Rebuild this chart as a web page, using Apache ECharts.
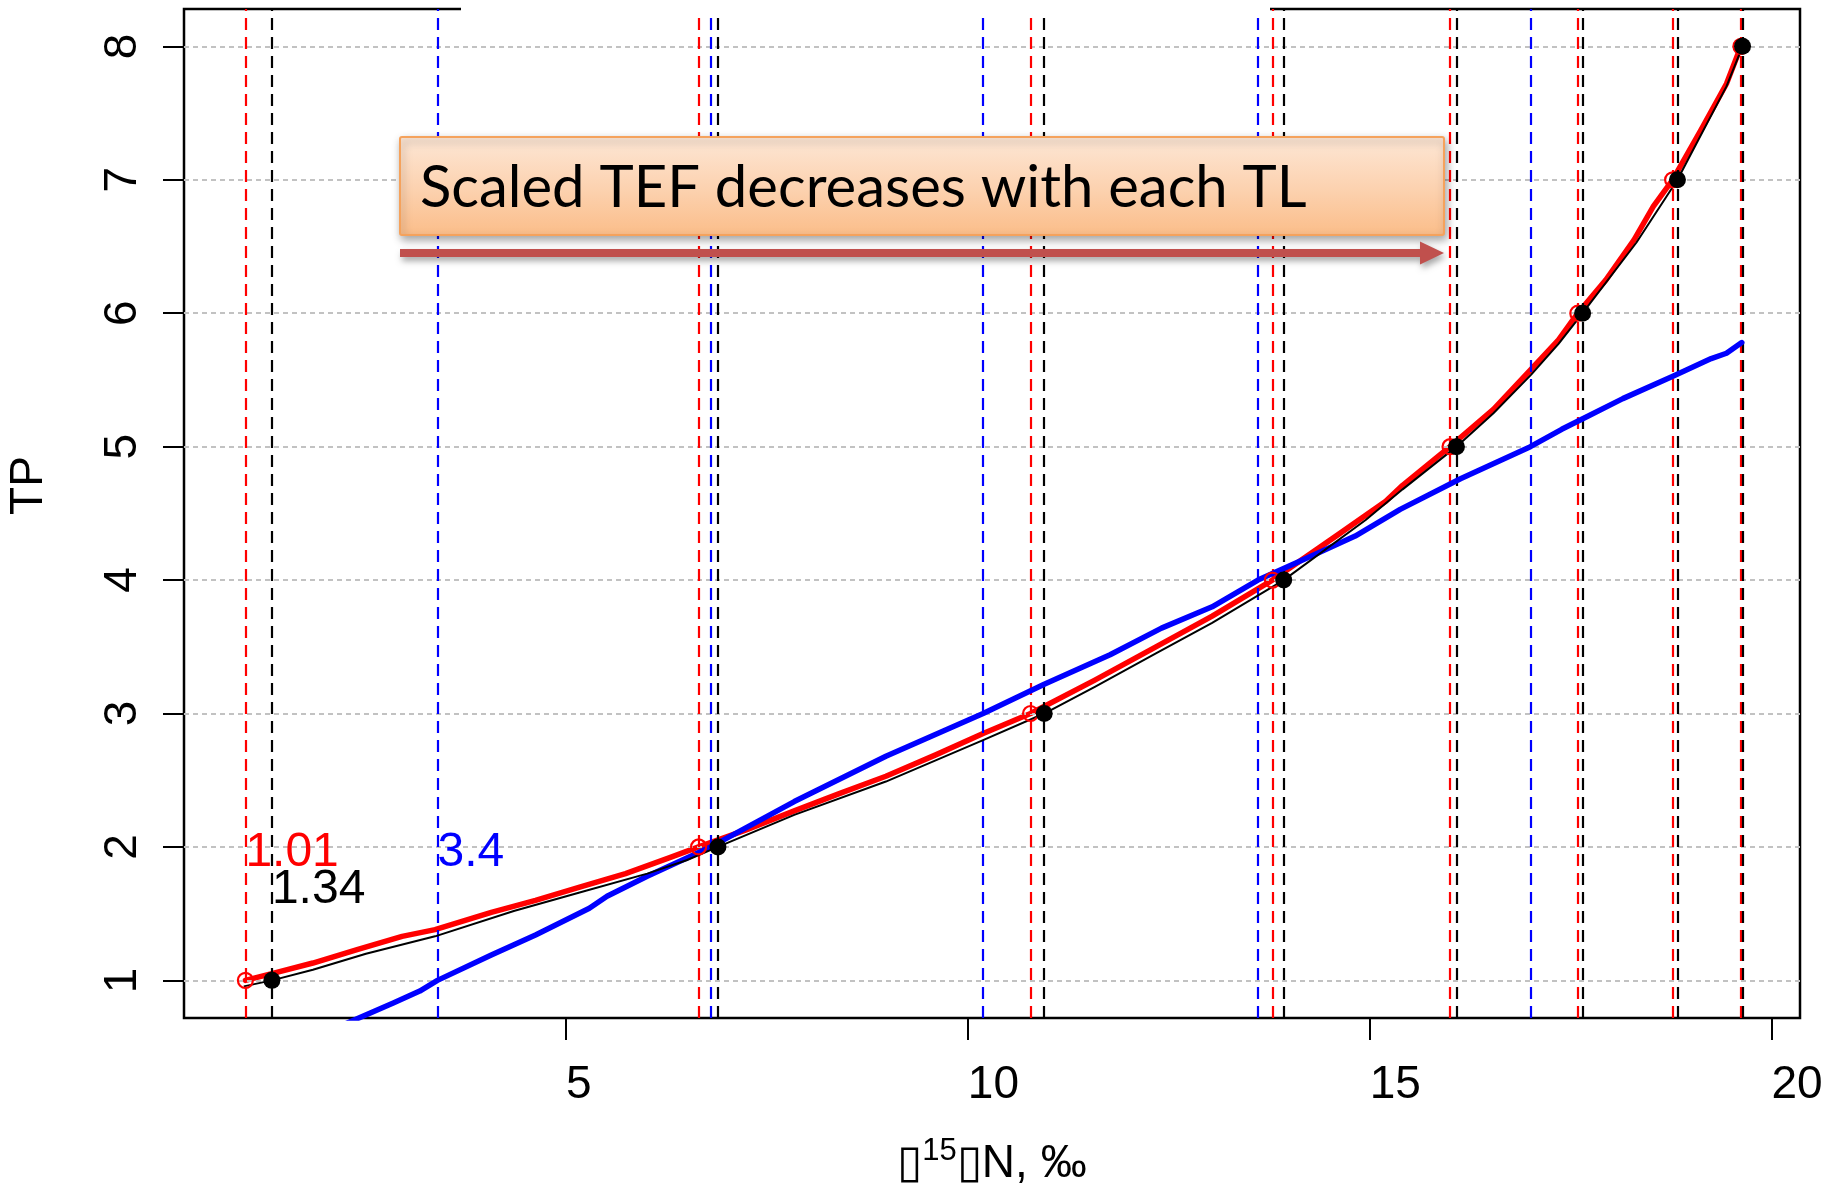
<!DOCTYPE html>
<html>
<head>
<meta charset="utf-8">
<title>TP vs δ15N</title>
<script src="https://cdn.jsdelivr.net/npm/echarts@6/dist/echarts.min.js"></script>
<style>
  html, body { margin: 0; padding: 0; background: #ffffff; }
  #chart { width: 1832px; height: 1200px; }
</style>
</head>
<body>
<div id="chart"></div>
<script>
// Trophic position levels and axis ticks
const tpLevels = [1, 2, 3, 4, 5, 6, 7, 8];
const xTicks = [5, 10, 15, 20];

// δ15N where each model curve reaches an integer TP
const redCross   = [1.01, 6.65, 10.78, 13.79, 16.00, 17.59, 18.77, 19.62];
const blackCross = [1.34, 6.89, 10.95, 13.93, 16.08, 17.65, 18.83, 19.64];
const blueCross  = [3.4, 6.80, 10.19, 13.61, 17.00];

// Baseline δ15N values printed next to the first dashed lines
const baseRed = 1.01;
const baseBlack = 1.34;
const baseBlue = 3.4;

// Model curves: [δ15N, TP]
const redCurve = [
  [1.01, 1.00], [1.40, 1.06], [1.85, 1.13], [2.40, 1.23], [2.96, 1.33], [3.37, 1.38],
  [4.07, 1.51], [4.62, 1.60], [5.18, 1.70], [5.74, 1.80], [6.29, 1.92], [6.65, 2.00],
  [7.25, 2.13], [7.84, 2.27], [8.40, 2.40], [8.98, 2.53], [9.60, 2.69], [10.19, 2.85],
  [10.78, 3.00], [11.58, 3.25], [12.34, 3.50], [13.04, 3.73], [13.79, 4.00], [14.63, 4.35],
  [15.20, 4.59], [15.41, 4.71], [16.00, 5.00], [16.54, 5.28], [17.01, 5.58], [17.35, 5.80],
  [17.59, 6.00], [17.94, 6.25], [18.29, 6.55], [18.53, 6.80], [18.77, 7.00], [19.12, 7.37],
  [19.44, 7.72], [19.62, 8.00]
];
const blackCurve = [
  [0.99, 0.955], [1.34, 1.00], [1.85, 1.08], [2.51, 1.20], [3.37, 1.33], [4.35, 1.52],
  [5.18, 1.66], [6.01, 1.80], [6.50, 1.90], [6.89, 2.00], [7.84, 2.24], [8.98, 2.49],
  [10.19, 2.80], [10.95, 3.00], [11.58, 3.20], [12.34, 3.45], [13.04, 3.68], [13.93, 4.00],
  [14.95, 4.45], [15.41, 4.68], [16.08, 5.00], [16.54, 5.25], [17.01, 5.54], [17.35, 5.77],
  [17.65, 6.00], [18.32, 6.53], [18.83, 7.00], [19.44, 7.70], [19.64, 8.00]
];
const blueCurve = [
  [2.20, 0.66], [2.85, 0.83], [3.18, 0.92], [3.40, 1.00], [4.07, 1.19], [4.62, 1.34],
  [5.29, 1.54], [5.51, 1.63], [6.01, 1.78], [6.80, 2.00], [7.84, 2.34], [8.98, 2.68],
  [10.19, 3.00], [10.95, 3.22], [11.77, 3.44], [12.41, 3.64], [13.04, 3.80], [13.61, 4.00],
  [14.31, 4.19], [14.82, 4.33], [15.38, 4.53], [16.13, 4.76], [17.00, 5.00], [17.39, 5.13],
  [17.72, 5.23], [18.15, 5.36], [18.78, 5.53], [19.25, 5.66], [19.44, 5.70], [19.63, 5.78]
];

const AXIS_FONT = "'Liberation Sans', Arial, Helvetica, sans-serif";
const RED = '#ff0000', BLACK = '#000000', BLUE = '#0000ff';

const chart = echarts.init(document.getElementById('chart'), null, { renderer: 'canvas' });

function vLines(values, color) {
  return {
    silent: true,
    symbol: ['none', 'none'],
    label: { show: false },
    emphasis: { disabled: true },
    animation: false,
    lineStyle: { color: color, width: 2.2, type: [12, 7], opacity: 1 },
    data: values.map(v => ({ xAxis: v }))
  };
}

function crossPoints(xs) {
  return xs.map((x, i) => [x, tpLevels[i]]);
}

const option = {
  animation: false,
  backgroundColor: '#ffffff',
  grid: {
    left: 184, right: 32, top: 9, bottom: 182,
    show: true, borderColor: '#000', borderWidth: 2.5, backgroundColor: 'transparent',
    containLabel: false, outerBoundsMode: 'none'
  },
  xAxis: {
    type: 'value', min: 0.246, max: 20.355,
    name: '{t|\u25AF}{s|15}{t|\u25AFN, \u2030}',
    nameLocation: 'middle', nameGap: 118,
    nameTextStyle: {
      rich: {
        t: { fontSize: 46, fontFamily: AXIS_FONT, color: '#000' },
        s: { fontSize: 31, fontFamily: AXIS_FONT, color: '#000', padding: [0, 0, 26, 0] }
      }
    },
    axisLine: { show: false },
    splitLine: { show: false },
    axisTick: { show: true, customValues: xTicks, length: 22, lineStyle: { color: '#000', width: 2 } },
    axisLabel: {
      customValues: xTicks, fontSize: 46, fontFamily: AXIS_FONT, color: '#000',
      align: 'left', margin: 44
    }
  },
  yAxis: {
    type: 'value', min: 0.718, max: 8.28,
    name: 'TP', nameLocation: 'middle', nameGap: 132, nameRotate: 90,
    nameTextStyle: { fontSize: 46, fontFamily: AXIS_FONT, color: '#000', padding: [0, 0, 0, 56] },
    axisLine: { show: false },
    splitLine: { show: false },
    axisTick: { show: true, customValues: tpLevels, length: 21, lineStyle: { color: '#000', width: 2 } },
    axisLabel: {
      customValues: tpLevels, fontSize: 46, fontFamily: AXIS_FONT, color: '#000',
      rotate: 90, margin: 38
    }
  },
  series: [
    {
      name: 'grid', type: 'line', data: [], z: 1, silent: true,
      markLine: {
        silent: true, symbol: ['none', 'none'], label: { show: false }, animation: false,
        lineStyle: { color: '#c2c2c2', width: 2, type: [5, 4] },
        data: tpLevels.map(v => ({ yAxis: v }))
      }
    },
    { name: 'blue levels', type: 'line', data: [], z: 2, silent: true, markLine: vLines(blueCross, BLUE) },
    { name: 'red levels', type: 'line', data: [], z: 2, silent: true, markLine: vLines(redCross, RED) },
    { name: 'black levels', type: 'line', data: [], z: 2, silent: true, markLine: vLines(blackCross, BLACK) },
    {
      name: 'red', type: 'line', data: redCurve, z: 4, showSymbol: false, clip: true, silent: true,
      lineStyle: { color: RED, width: 5.5, cap: 'round', join: 'round', opacity: 1 }
    },
    {
      name: 'blue', type: 'line', data: blueCurve, z: 5, showSymbol: false, clip: true, silent: true,
      lineStyle: { color: BLUE, width: 5.5, cap: 'round', join: 'round', opacity: 1 }
    },
    {
      name: 'black', type: 'line', data: blackCurve, z: 6, showSymbol: false, clip: true, silent: true,
      lineStyle: { color: BLACK, width: 2, join: 'round', opacity: 1 }
    },
    {
      name: 'red points', type: 'scatter', data: crossPoints(redCross), z: 7, silent: true,
      symbol: 'circle', symbolSize: 15,
      itemStyle: { color: 'rgba(0,0,0,0)', borderColor: RED, borderWidth: 2.2, opacity: 1 }
    },
    {
      name: 'black points', type: 'scatter', data: crossPoints(blackCross), z: 8, silent: true,
      symbol: 'circle', symbolSize: 17, itemStyle: { color: BLACK, opacity: 1 }
    },
    {
      name: 'baseline labels', type: 'scatter', z: 9, silent: true, symbolSize: 0,
      itemStyle: { opacity: 1 },
      data: [
        { value: [baseRed, 1.96], label: { color: RED } },
        { value: [baseBlack, 1.68], label: { color: BLACK } },
        { value: [baseBlue, 1.96], label: { color: BLUE } }
      ],
      label: {
        show: true, position: 'right', distance: 0, opacity: 1,
        fontSize: 48, fontFamily: AXIS_FONT,
        formatter: p => String(p.value[0])
      }
    }
  ],
  graphic: [
    // gap in the top frame line
    { type: 'rect', z: 50, silent: true, shape: { x: 461, y: 6, width: 809, height: 6 }, style: { fill: '#ffffff' } },
    // callout box
    {
      type: 'rect', z: 60, silent: true,
      shape: { x: 400, y: 137, width: 1044, height: 98, r: 2 },
      style: {
        fill: new echarts.graphic.LinearGradient(0, 0, 0, 1, [
          { offset: 0, color: '#fde7d6' },
          { offset: 0.55, color: '#fcd1ae' },
          { offset: 1, color: '#fbbd89' }
        ]),
        stroke: '#f5a25c', lineWidth: 2,
        shadowBlur: 8, shadowOffsetX: 2, shadowOffsetY: 4, shadowColor: 'rgba(0,0,0,0.35)'
      }
    },
    {
      type: 'text', z: 61, silent: true, x: 420, y: 188,
      style: {
        text: 'Scaled TEF decreases with each TL',
        fontFamily: "Lato, 'Open Sans', sans-serif", fontSize: 58, fill: '#000',
        verticalAlign: 'middle', align: 'left'
      }
    },
    // arrow beneath the callout
    {
      type: 'polygon', z: 60, silent: true,
      shape: { points: [[400, 249], [1420, 249], [1420, 241.5], [1444, 253], [1420, 264.5], [1420, 257], [400, 257]] },
      style: {
        fill: '#c0504d',
        shadowBlur: 6, shadowOffsetX: 2, shadowOffsetY: 4, shadowColor: 'rgba(0,0,0,0.35)'
      }
    }
  ]
};

chart.setOption(option);
</script>
</body>
</html>
